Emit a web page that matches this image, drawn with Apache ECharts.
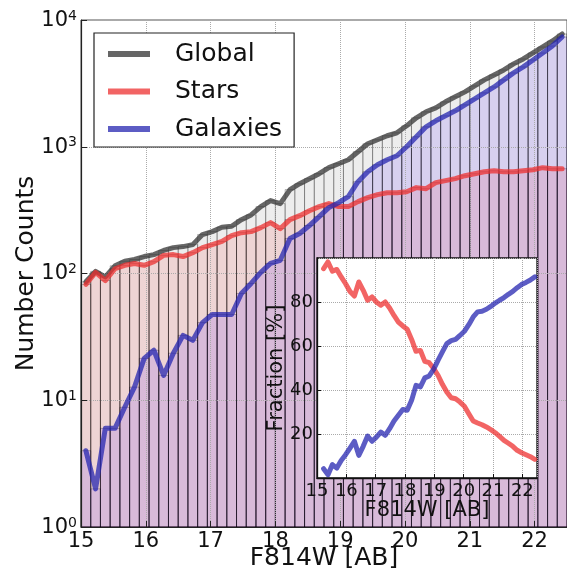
<!DOCTYPE html>
<html><head><meta charset="utf-8">
<script src="https://cdn.jsdelivr.net/npm/echarts@6/dist/echarts.min.js"></script>
<style>html,body{margin:0;padding:0;background:#fff}#c{width:567px;height:573px}</style>
</head><body><div id="c"></div>
<script>
// ---- data ----
const magCenters = [15.075,15.225,15.375,15.525,15.675,15.825,15.975,16.125,16.275,16.425,
  16.575,16.725,16.875,17.025,17.175,17.325,17.475,17.625,17.775,17.925,
  18.075,18.225,18.375,18.525,18.675,18.825,18.975,19.125,19.275,19.425,
  19.575,19.725,19.875,20.025,20.175,20.325,20.475,20.625,20.775,20.925,
  21.075,21.225,21.375,21.525,21.675,21.825,21.975,22.125,22.275,22.425];
const binWidth = 0.15;
const globalCounts = [86,104,94,115,125,129,136,141,152,160,
  163,169,203,214,232,236,266,290,337,376,
  356,459,511,560,613,684,735,790,914,1056,
  1135,1221,1289,1463,1692,1888,2028,2261,2476,2711,
  3020,3370,3688,4038,4508,4930,5497,6127,6834,7762];
const starCounts = [82,102,88,109,116,120,116,124,139,141,
  136,146,160,169,179,199,210,214,230,252,
  226,266,286,313,337,356,337,337,369,397,
  419,434,434,442,476,467,521,540,560,591,
  613,635,647,635,635,647,659,684,671,671];
const galaxyCounts = [4,2,6,6,8.8,12.7,21.4,24.8,15.7,23.5,
  32.5,29.7,41,47.5,47.5,47.5,69.6,83.5,102,120,
  127,189,207,239,281,331,362,404,530,635,
  721,790,849,1000,1199,1437,1603,1754,1920,2142,
  2388,2662,2966,3370,3826,4266,4842,5497,6240,7345];

const insetMag = [15.225,15.375,15.525,15.675,15.825,15.975,16.125,16.275,16.425,
  16.575,16.725,16.875,17.025,17.175,17.325,17.475,17.625,17.775,17.925,
  18.075,18.225,18.375,18.525,18.675,18.825,18.975,19.125,19.275,19.425,
  19.575,19.725,19.875,20.025,20.175,20.325,20.475,20.625,20.775,20.925,
  21.075,21.225,21.375,21.525,21.675,21.825,21.975,22.125,22.275,22.425];
const insetStarFrac = [95.2,98.2,94,94.8,91.4,88.3,84.8,82.7,89.1,85.3,
  80.8,82.3,80,78.5,80,77.3,73.9,70.9,69.1,67.6,
  63,57.6,58,53,52.4,49.8,46.7,42.6,39.1,36.5,
  36,34.5,32.6,29.2,25.9,25,24.2,23.2,22,20.6,
  18.9,17.1,15.8,14.4,12.6,11.5,10.6,9.7,8.5];
const insetGalaxyFrac = [4.2,1.5,6.1,4.5,8,10.6,13.6,16.7,10.3,14.4,
  19.1,16.7,18.6,20.9,19.4,22.4,25.9,28.5,31.1,30.8,
  35.3,42.1,41.4,45.5,46.4,49.4,53.5,57.3,61.1,62.4,
  63,64.8,66.7,69.7,73.2,75.5,75.8,76.7,78,79.5,
  80.8,82,83.5,84.8,86.5,88,88.9,90,91.4];

const seriesNames = ['Global','Stars','Galaxies'];
const xLabel = 'F814W [AB]';
const yLabel = 'Number Counts';
const insetYLabel = 'Fraction [%]';

// ---- styling ----
const FONT = 'DejaVu Sans';
const lineColors = ['#333333','#ee3030','#2525b0'];
const barFills = ['rgba(0,0,0,0.07)','rgba(255,0,0,0.1)','rgba(60,0,255,0.12)'];
const barStroke = 'rgba(0,0,0,0.27)';

function barsFrom(counts){
  return magCenters.map((m,i)=>[m-binWidth/2, m+binWidth/2, counts[i]]);
}
function barRender(fill){
  return function(params, api){
    const lo = api.value(0), hi = api.value(1), v = api.value(2);
    const p0 = api.coord([lo, v]);
    const p1 = api.coord([hi, 1]);
    return {type:'rect', shape:{x:p0[0], y:p0[1], width:p1[0]-p0[0], height:p1[1]-p0[1]},
      style:{fill:fill, stroke:barStroke, lineWidth:1}};
  };
}
const allCounts = [globalCounts, starCounts, galaxyCounts];
const series = [];
allCounts.forEach((c,k)=>{
  series.push({type:'custom', xAxisIndex:0, yAxisIndex:0, z:2, silent:true,
    renderItem:barRender(barFills[k]), data:barsFrom(c), encode:{x:[0,1], y:2}});
});
allCounts.forEach((c,k)=>{
  series.push({type:'line', name:seriesNames[k], xAxisIndex:0, yAxisIndex:0, z:6,
    symbol:'none', data:magCenters.map((m,i)=>[m,c[i]]),
    lineStyle:{color:lineColors[k], width:5, opacity:0.75, cap:'round', join:'round'},
    itemStyle:{color:lineColors[k]}});
});
series.push({type:'line', name:'Stars fraction', xAxisIndex:1, yAxisIndex:1, z:12, symbol:'none',
  data:insetMag.map((m,i)=>[m,insetStarFrac[i]]),
  lineStyle:{color:lineColors[1], width:5, opacity:0.75, cap:'round', join:'round'}});
series.push({type:'line', name:'Galaxies fraction', xAxisIndex:1, yAxisIndex:1, z:12, symbol:'none',
  data:insetMag.map((m,i)=>[m,insetGalaxyFrac[i]]),
  lineStyle:{color:lineColors[2], width:5, opacity:0.75, cap:'round', join:'round'}});

const dotted = {show:true, lineStyle:{color:'#aaa', type:'dotted', width:1}};
const chart = echarts.init(document.getElementById('c'), null, {renderer:'canvas'});
chart.setOption({
  animation:false,
  backgroundColor:'#fff',
  grid:[
    {left:81, top:20, width:486, height:507, outerBoundsMode:'none', containLabel:false,
     show:true, borderColor:'#555', borderWidth:1, backgroundColor:'transparent', z:0},
    {left:317, top:258, width:220, height:220, outerBoundsMode:'none', containLabel:false,
     show:true, borderColor:'#111', borderWidth:1.3, backgroundColor:'#fff', z:10}
  ],
  xAxis:[
    {type:'value', gridIndex:0, min:15, max:22.5, interval:1, z:4,
     name:xLabel, nameLocation:'middle', nameGap:19, nameMoveOverlap:false,
     nameTextStyle:{fontFamily:FONT, fontSize:25, color:'#111'},
     axisLine:{show:true, onZero:false, lineStyle:{color:'#222', width:1.2}},
     axisTick:{show:true, inside:true, length:6, lineStyle:{color:'#222'}},
     axisLabel:{fontFamily:FONT, fontSize:21, color:'#111', margin:4, showMaxLabel:false},
     splitLine:dotted},
    {type:'value', gridIndex:1, min:15, max:22.5, interval:1, z:11,
     name:xLabel, nameLocation:'middle', nameGap:22, nameMoveOverlap:false,
     nameTextStyle:{fontFamily:FONT, fontSize:21, color:'#111'},
     axisLine:{show:true, onZero:false, lineStyle:{color:'#111', width:1.3}},
     axisTick:{show:true, inside:true, length:4, lineStyle:{color:'#111'}},
     axisLabel:{fontFamily:FONT, fontSize:18, color:'#111', margin:4, showMaxLabel:false},
     splitLine:dotted}
  ],
  yAxis:[
    {type:'log', gridIndex:0, min:1, max:10000, logBase:10, z:4,
     name:yLabel, nameLocation:'middle', nameGap:42, nameMoveOverlap:false,
     nameTextStyle:{fontFamily:FONT, fontSize:25, color:'#111'},
     axisLine:{show:true, onZero:false, lineStyle:{color:'#222', width:1.2}},
     axisTick:{show:true, inside:true, length:6, lineStyle:{color:'#222'}},
     axisLabel:{margin:4, formatter:v=>'{b|10}{s|'+Math.round(Math.log10(v))+'}',
       rich:{b:{fontFamily:FONT, fontSize:21, color:'#111', lineHeight:22, verticalAlign:'bottom'},
             s:{fontFamily:FONT, fontSize:14, color:'#111', lineHeight:14, verticalAlign:'top', padding:[0,0,12,0]}}},
     splitLine:dotted},
    {type:'value', gridIndex:1, min:0, max:100, interval:20, z:11,
     name:insetYLabel, nameLocation:'middle', nameGap:30, nameMoveOverlap:false,
     nameTextStyle:{fontFamily:FONT, fontSize:21, color:'#111'},
     axisLine:{show:true, onZero:false, lineStyle:{color:'#111', width:1.3}},
     axisTick:{show:true, inside:true, length:4, lineStyle:{color:'#111'}},
     axisLabel:{fontFamily:FONT, fontSize:18, color:'#111', margin:4, showMinLabel:false, showMaxLabel:false},
     splitLine:dotted}
  ],
  legend:{
    orient:'vertical', left:94, top:33, z:20,
    padding:[8,12,5,14], itemWidth:42, itemHeight:6, itemGap:11.5,
    backgroundColor:'#fff', borderColor:'#222', borderWidth:1.2, borderRadius:0,
    textStyle:{fontFamily:FONT, fontSize:25, color:'#111', lineHeight:26, padding:[0,0,0,20]},
    data:seriesNames.map((n,k)=>({name:n, icon:'rect', itemStyle:{color:lineColors[k], opacity:0.75}}))
  },
  series:series
});
</script></body></html>
